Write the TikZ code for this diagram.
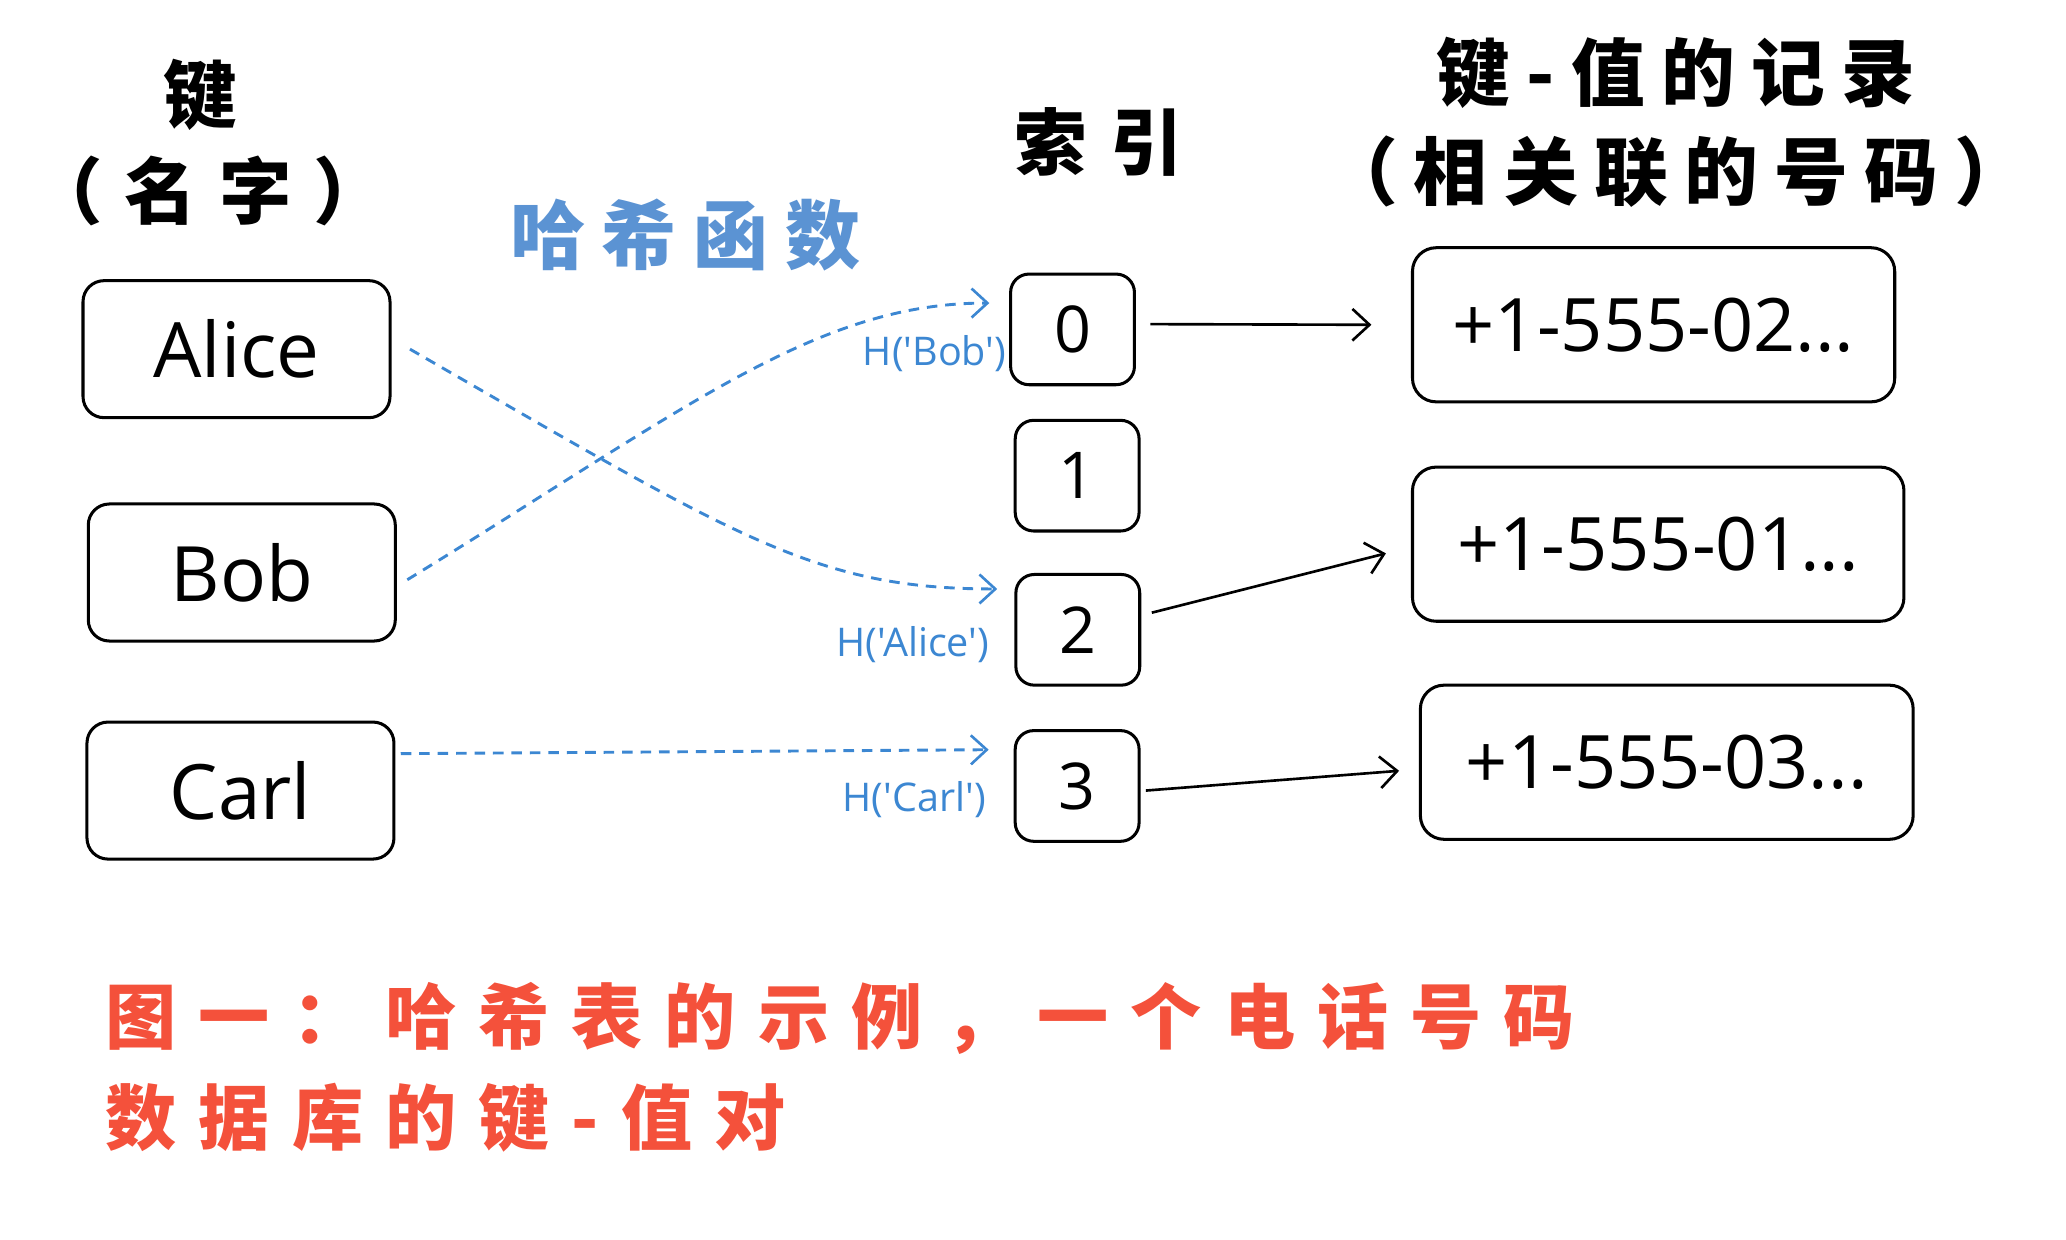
\documentclass[tikz,border=0pt]{standalone}
\usepackage{fontspec}
\setmainfont{Open Sans}
\newfontfamily\cjk{Noto Sans CJK SC}
\newfontfamily\lblfont{Open Sans}[Ligatures=TeXOff]
\usetikzlibrary{arrows.meta}
\definecolor{inkblue}{HTML}{3C87D2}
\definecolor{hashblue}{HTML}{5B93D3}
\definecolor{capred}{HTML}{F4513B}

\begin{document}
\begin{tikzpicture}[x=1pt,y=-1pt,
  box/.style={draw=black, line width=2.3pt, inner sep=0pt},
  keybox/.style={box, rounded corners=16pt, minimum width=233pt, minimum height=104pt,
    font=\fontsize{58}{60}\selectfont},
  idxbox/.style={box, rounded corners=14pt, minimum width=94pt, minimum height=84pt,
    font=\fontsize{49}{50}\selectfont},
  valbox/.style={box, rounded corners=18pt, minimum width=368pt, minimum height=117pt,
    font=\fontsize{56}{58}\selectfont},
  heading/.style={font=\cjk\bfseries\fontsize{56}{70}\selectfont\addfontfeature{LetterSpace=22}},
  hashlbl/.style={text=inkblue, font=\lblfont\fontsize{30}{32}\selectfont, anchor=east, inner sep=0pt},
  solidarrow/.style={draw=black, line width=2pt, -{Straight Barb[length=13pt,width=24pt,line width=2pt]}},
  hasharrow/.style={draw=inkblue, line width=2.2pt, dash pattern=on 8pt off 6pt,
    -{Straight Barb[length=12pt,width=22pt,line width=2pt]}}
]
\useasboundingbox (0,0) rectangle (1568,941);

% column headings
\node[heading] (hkey) at (152,72) {键};
\node[heading, font=\cjk\bfseries\fontsize{55}{70}\selectfont\addfontfeature{LetterSpace=30}] (hname) at (158,145) {（名字）};
\node[heading, text=hashblue, font=\cjk\bfseries\fontsize{57}{70}\selectfont\addfontfeature{LetterSpace=22}] (hhash) at (520,178) {哈希函数};
\node[heading, font=\cjk\bfseries\fontsize{55}{70}\selectfont\addfontfeature{LetterSpace=32}] (hidx) at (834,108) {索引};
\node[heading] (hrec) at (1272,55) {键-值的记录};
\node[heading] (hnum) at (1272,130) {（相关联的号码）};

% keys
\node[keybox] (alice) at (179.5,265) {Alice};
\node[keybox] (bob) at (183.5,434.5) {Bob};
\node[keybox] (carl) at (182.5,600) {Carl};

% index slots
\node[idxbox] (i0) at (814,250) {0};
\node[idxbox] (i1) at (817.5,361) {1};
\node[idxbox] (i2) at (818,478) {2};
\node[idxbox] (i3) at (817.5,596.5) {3};

% stored records
\node[valbox, minimum width=366pt] (v02) at (1255,246.5) {+1-555-02...};
\node[valbox, minimum width=373pt] (v01) at (1258.5,413) {+1-555-01...};
\node[valbox, minimum width=374pt] (v03) at (1265,578.5) {+1-555-03...};

% slot -> record
\draw[solidarrow] ([xshift=11pt,yshift=4pt]i0.east) -- ([xshift=-30pt]v02.west);
\draw[solidarrow] ([xshift=8pt,yshift=13pt]i2.east) -- ([xshift=-19pt,yshift=-7pt]v01.west);
\draw[solidarrow] ([xshift=4pt,yshift=-3.5pt]i3.east) -- ([xshift=-15pt,yshift=-6.5pt]v03.west);

% hashing key -> slot
\draw[hasharrow] ([xshift=14pt]alice.east) .. controls +(250,144) and +(-138,0) .. ([xshift=-13pt,yshift=31pt]i2.west);
\draw[hasharrow] ([xshift=8pt,yshift=-5.5pt]bob.east) .. controls +(212,-130) and +(-132,0) .. ([xshift=-15pt,yshift=20pt]i0.west);
\draw[hasharrow] ([xshift=4pt,yshift=28pt]carl.east) -- ([xshift=-19pt,yshift=27.5pt]i3.west);

% hash labels
\node[hashlbl] (lbob) at ([xshift=-2pt,yshift=-18pt]i0.west) {H('Bob')};
\node[hashlbl] (lalice) at ([xshift=-19pt,yshift=-11pt]i2.west) {H('Alice')};
\node[hashlbl] (lcarl) at ([xshift=-21pt,yshift=-10.5pt]i3.west) {H('Carl')};

% caption
\node[anchor=west, align=left, text=capred, inner sep=0pt,
  font=\cjk\bfseries\fontsize{54}{76}\selectfont\addfontfeature{LetterSpace=31}] (cap) at (80,810)
  {图一：哈希表的示例，一个电话号码\\数据库的键-值对};
\end{tikzpicture}
\end{document}
